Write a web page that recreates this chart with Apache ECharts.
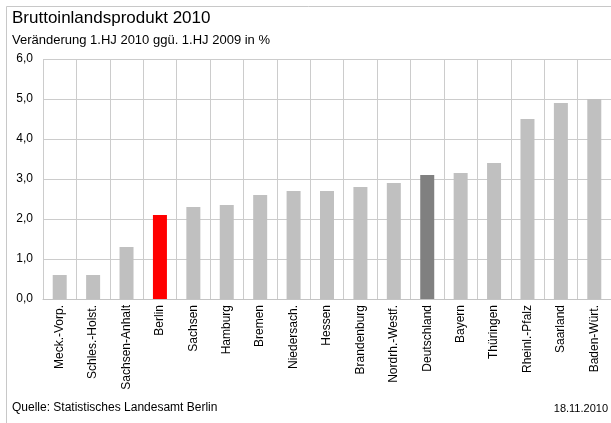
<!DOCTYPE html>
<html>
<head>
<meta charset="utf-8">
<script src="https://cdn.jsdelivr.net/npm/echarts@6/dist/echarts.min.js"></script>
<style>
html,body{margin:0;padding:0;background:#fff;}
#chart{width:611px;height:423px;}
</style>
</head>
<body>
<div id="chart"></div>
<script>
const categories = ['Meck.-Vorp.','Schles.-Holst.','Sachsen-Anhalt','Berlin','Sachsen','Hamburg','Bremen','Niedersach.','Hessen','Brandenburg','Nordrh.-Westf.','Deutschland','Bayern','Thüringen','Rheinl.-Pfalz','Saarland','Baden-Würt.'];
const values = [0.6, 0.6, 1.3, 2.1, 2.3, 2.35, 2.6, 2.7, 2.7, 2.8, 2.9, 3.1, 3.15, 3.4, 4.5, 4.9, 5.0];
const highlightRed = ['Berlin'];
const highlightDark = ['Deutschland'];
const yTicks = [0, 1, 2, 3, 4, 5, 6];

const chart = echarts.init(document.getElementById('chart'), null, {renderer:'canvas'});
const font = 'Arial, "Liberation Sans", sans-serif';
chart.setOption({
  animation: false,
  backgroundColor: '#fff',
  grid: {left: 43, top: 59, width: 571, height: 240, containLabel: false},
  xAxis: {
    type: 'category',
    data: categories,
    boundaryGap: true,
    axisLine: {show: true, lineStyle: {color: '#c4c4c4', width: 1}},
    axisTick: {show: false},
    splitLine: {show: true, lineStyle: {color: '#cccccc', width: 1}},
    axisLabel: {rotate: 90, interval: 0, margin: 6, color: '#000', fontSize: 12, fontFamily: font}
  },
  yAxis: {
    type: 'value',
    min: yTicks[0], max: yTicks[yTicks.length-1], interval: 1,
    axisLine: {show: false},
    axisTick: {show: false},
    splitLine: {show: true, lineStyle: {color: '#cccccc', width: 1}},
    axisLabel: {margin: 10, color: '#000', fontSize: 12, fontFamily: font,
      formatter: v => v.toFixed(1).replace('.', ',')}
  },
  series: [{
    type: 'bar',
    barWidth: 14,
    data: values.map((v, i) => ({
      value: v,
      itemStyle: {color: highlightRed.includes(categories[i]) ? '#ff0000' : (highlightDark.includes(categories[i]) ? '#808080' : '#c0c0c0')}
    }))
  }],
  graphic: [
    {type: 'line', shape: {x1: 6.5, y1: 6.5, x2: 611, y2: 6.5}, style: {stroke: '#c8c8c8', lineWidth: 1}},
    {type: 'line', shape: {x1: 6.5, y1: 6.5, x2: 6.5, y2: 423}, style: {stroke: '#c8c8c8', lineWidth: 1}},
    {type: 'text', left: 12, top: 10, style: {text: 'Bruttoinlandsprodukt 2010', font: '17px ' + font, fill: '#000'}},
    {type: 'text', left: 12, top: 34, style: {text: 'Veränderung 1.HJ 2010 ggü. 1.HJ 2009 in %', font: '13px ' + font, fill: '#000'}},
    {type: 'text', left: 12, top: 402, style: {text: 'Quelle: Statistisches Landesamt Berlin', font: '12px ' + font, fill: '#000'}},
    {type: 'text', right: 3, top: 403, style: {text: '18.11.2010', font: '11px ' + font, fill: '#000'}}
  ]
});
</script>
</body>
</html>
